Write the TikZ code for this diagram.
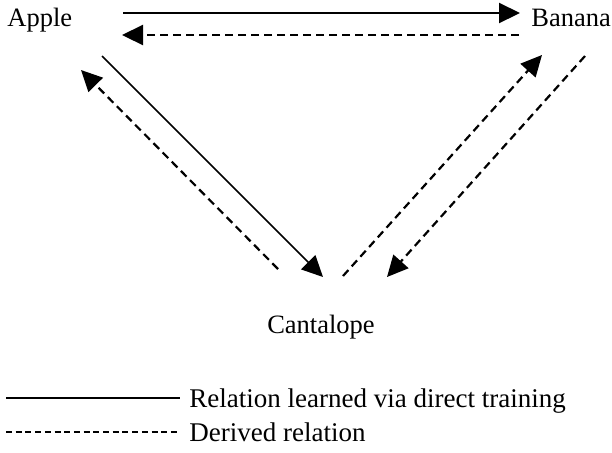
\documentclass[tikz,border=0pt]{standalone}
\usepackage{fontspec}
\setmainfont{Liberation Serif}
\usepackage{tikz}
\usetikzlibrary{arrows.meta,positioning}
\tikzstyle{fruit} = [inner sep=0pt, font=\fontsize{13.25}{15}\selectfont]
\tikzstyle{keytext} = [inner sep=0pt, font=\fontsize{13.5}{15}\selectfont]
\tikzstyle{trained} = [line width=1.1pt, -{Triangle[length=10.5pt,width=10pt]}]
\tikzstyle{derived} = [line width=1.1pt, dash pattern=on 4pt off 2.5pt,
    -{Triangle[length=10.5pt,width=10pt]}]

\begin{document}
\begin{tikzpicture}[x=0.5pt,y=-0.5pt]
\useasboundingbox (0,0) rectangle (612,452);

\node [fruit, anchor=base west] (apple) at (7,26) {Apple};
\node [fruit, anchor=base west] (banana) at (531,26) {Banana};
\node [fruit, anchor=base] (cantalope) at (321,333) {Cantalope};

% apple <-> banana
\coordinate (ab1) at (123,13);
\coordinate (ab2) at (520,13);
\coordinate (ba1) at (519,35);
\coordinate (ba2) at (122,35);
\draw [trained] (ab1) -- (ab2);
\draw [derived] (ba1) -- (ba2);

% apple <-> cantalope
\coordinate (ac1) at (102,56);
\coordinate (ac2) at (323,277);
\coordinate (ca1) at (278,269);
\coordinate (ca2) at (81,70);
\draw [trained, line width=0.85pt] (ac1) -- (ac2);
\draw [derived] (ca1) -- (ca2);

% cantalope <-> banana
\coordinate (cb1) at (343,276);
\coordinate (cb2) at (542,55);
\coordinate (bc1) at (585,56);
\coordinate (bc2) at (387,277);
\draw [derived] (cb1) -- (cb2);
\draw [derived] (bc1) -- (bc2);

% legend
\coordinate (key1) at (6,398);
\coordinate (key1end) at (180,398);
\draw [line width=0.6pt] (key1) -- (key1end);
\node [keytext, anchor=base west] (keytrained) at (189,407)
    {Relation learned via direct training};

\coordinate (key2) at (6,432);
\coordinate (key2end) at (180,432);
\draw [line width=0.6pt, dash pattern=on 3pt off 1.85pt] (key2) -- (key2end);
\node [keytext, anchor=base west] (keyderived) at (189,441) {Derived relation};

\end{tikzpicture}
\end{document}
